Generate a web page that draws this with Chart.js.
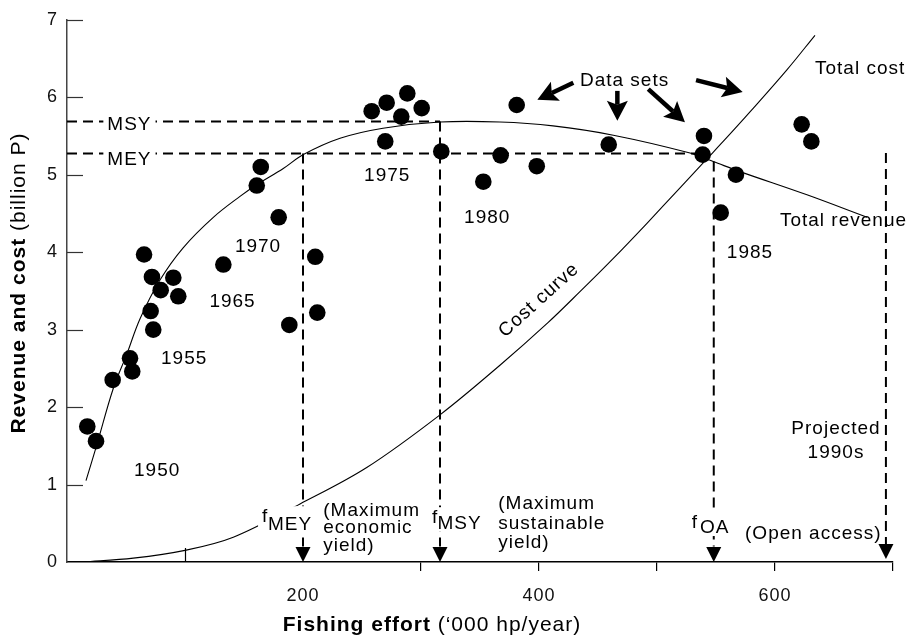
<!DOCTYPE html>
<html>
<head>
<meta charset="utf-8">
<title>Revenue and cost vs fishing effort</title>
<script src="https://cdn.jsdelivr.net/npm/chart.js@4.4.1/dist/chart.umd.min.js"></script>
<style>
html,body{margin:0;padding:0;background:#ffffff;}
#box{position:relative;width:917px;height:640px;}
</style>
</head>
<body>
<div id="box"><canvas id="chart" width="917" height="640"></canvas></div>
<script>
// ---------------- data ----------------
const effortObserved  = [17.2,24.6,38.7,53.4,55.3,65.3,72.0,70.9,73.1,79.4,90.1,94.3,132.5,160.8,164.2,179.4,188.4,210.4,212.1,258.2,270.9,288.4,300.6,283.3,269.7,317.2,381.1,367.5,398.1,352.8,459.1,539.8,538.7,566.9,554.0,622.6,630.8];
const revenueObserved = [1.75,1.56,2.35,2.63,2.46,3.97,3.68,3.24,3.00,3.51,3.67,3.43,3.84,4.86,5.10,4.45,3.06,3.94,3.22,5.82,5.93,6.05,5.86,5.75,5.43,5.30,5.90,5.25,5.11,4.91,5.39,5.50,5.26,5.00,4.51,5.65,5.43];

const revenueCurveEffort = [16.1,25.2,39.2,50.6,61.9,78.8,98.6,124.0,146.6,160.8,183.3,200.3,231.4,267.8,316.1,366.9,411.9,463.0,528.0,547.7,570.3,627.1,678.0];
const revenueCurveValue  = [1.05,1.51,2.24,2.68,3.14,3.64,4.06,4.45,4.72,4.87,5.08,5.26,5.47,5.60,5.68,5.68,5.63,5.51,5.28,5.17,5.04,4.74,4.45];

const costCurveEffort = [13.6,56.2,100.0,140.9,197.5,254.0,316.1,366.9,407.6,434.7,463.0,491.3,519.5,541.5,560.4,578.8,609.9,633.9];
const costCurveValue  = [0.00,0.05,0.15,0.32,0.75,1.22,1.90,2.54,3.09,3.49,3.92,4.37,4.83,5.19,5.50,5.81,6.35,6.80];

const xTickLabels = ['200','400','600'];
const yTickLabels = ['0','1','2','3','4','5','6','7'];

const msyLevel = 5.687;
const meyLevel = 5.275;
const meyLineEnd = 533;
const fMEY = 200.0, fMSY = 316.1, fOA = 548.1, fProjected = 694.0;
const oaTop = 5.17, projectedTop = 5.28, dropBottom = 0.2;

// annotation texts: [text, x (effort), y (baseline, billion P), align]
const noteTexts = [
  ['1950', 76.4, 1.109, 'center'],
  ['1955', 99.3, 2.554, 'center'],
  ['1965', 140.3, 3.290, 'center'],
  ['1970', 161.9, 4.000, 'center'],
  ['1975', 271.4, 4.913, 'center'],
  ['1980', 356.1, 4.382, 'center'],
  ['1985', 578.8, 3.927, 'center'],
  ['Total cost', 633.9, 6.295, 'left'],
  ['Total revenue', 604.2, 4.339, 'left'],
  ['Data sets', 472.5, 6.146, 'center'],
  ['Projected', 651.7, 1.649, 'center'],
  ['1990s', 651.7, 1.343, 'center'],
  ['(Maximum', 217.2, 0.599, 'left'],
  ['economic', 217.2, 0.370, 'left'],
  ['yield)', 217.2, 0.140, 'left'],
  ['(Maximum', 365.5, 0.685, 'left'],
  ['sustainable', 365.5, 0.430, 'left'],
  ['yield)', 365.5, 0.175, 'left'],
  ['(Open access)', 574.6, 0.302, 'left']
];
// boxed labels (white background): groups of [text, x, baseline y]
const boxedLabels = [
  [['MSY', 34.2, 5.572]],
  [['MEY', 34.2, 5.126]],
  [['f', 165.3, 0.514], ['MEY', 170.3, 0.417]],
  [['f', 309.3, 0.501], ['MSY', 314.0, 0.430]],
  [['f', 529.4, 0.434], ['OA', 536.4, 0.374]]
];
const costCurveLabel = ['Cost curve', 400, 3.379, -42];
// "Data sets" arrows: [x1, y1, x2, y2] in data units
const dataSetArrows = [
  [429.1, 6.188, 398.6, 5.967],
  [466.4, 6.082, 466.4, 5.697],
  [492.6, 6.104, 523.7, 5.678],
  [533.1, 6.222, 572.6, 6.069]
];
const dropArrowX = [fMEY, fMSY, fOA, fProjected];
const innerXTicks = [100];

// ---------------- chart ----------------
const FONT = '"Liberation Sans", Arial, Helvetica, sans-serif';
const xy = (xs, ys) => xs.map((x, i) => ({x: x, y: ys[i]}));
const dash = {showLine: true, borderColor: '#000', borderWidth: 2, borderDash: [10, 6], pointRadius: 0, fill: false, tension: 0, order: 3};

function spacing(ctx, v) { if ('letterSpacing' in ctx) ctx.letterSpacing = v; }

const annotationPlugin = {
  id: 'annotations',
  beforeDraw(chart) { spacing(chart.ctx, '1px'); },
  afterDatasetsDraw(chart) {
    const ctx = chart.ctx, sx = chart.scales.x, sy = chart.scales.y;
    const X = v => sx.getPixelForValue(v), Y = v => sy.getPixelForValue(v);
    ctx.save();
    spacing(ctx, '1px');
    ctx.fillStyle = '#000'; ctx.strokeStyle = '#000';

    // inward y ticks
    ctx.lineWidth = 1.2; ctx.strokeStyle = '#333';
    for (let i = 1; i < yTickLabels.length; i++) {
      const yy = Math.round(Y(+yTickLabels[i])) + 0.5;
      ctx.beginPath(); ctx.moveTo(sx.left, yy); ctx.lineTo(sx.left + 16, yy); ctx.stroke();
    }
    // inward x tick(s)
    ctx.strokeStyle = '#000';
    innerXTicks.forEach(v => {
      const xx = Math.round(X(v)) + 0.5;
      ctx.beginPath(); ctx.moveTo(xx, sy.bottom); ctx.lineTo(xx, sy.bottom - 14); ctx.stroke();
    });

    // drop-line arrowheads
    dropArrowX.forEach((v, i) => {
      const x = X(v), tip = Y(0) - (i === 3 ? 3 : 0);
      ctx.beginPath(); ctx.moveTo(x, tip); ctx.lineTo(x - 7.5, tip - 15); ctx.lineTo(x + 7.5, tip - 15); ctx.closePath(); ctx.fill();
    });

    // data-set arrows
    dataSetArrows.forEach(a => {
      const x1 = X(a[0]), y1 = Y(a[1]), x2 = X(a[2]), y2 = Y(a[3]);
      const dx = x2 - x1, dy = y2 - y1, L = Math.hypot(dx, dy), ux = dx / L, uy = dy / L, nx = -uy, ny = ux;
      const HL = 20, HW = 10.5, notch = 4;
      ctx.lineWidth = 4.5; ctx.lineCap = 'butt';
      ctx.beginPath(); ctx.moveTo(x1, y1); ctx.lineTo(x2 - ux * (HL - notch), y2 - uy * (HL - notch)); ctx.stroke();
      ctx.beginPath();
      ctx.moveTo(x2, y2);
      ctx.lineTo(x2 - ux * HL + nx * HW, y2 - uy * HL + ny * HW);
      ctx.lineTo(x2 - ux * (HL - notch), y2 - uy * (HL - notch));
      ctx.lineTo(x2 - ux * HL - nx * HW, y2 - uy * HL - ny * HW);
      ctx.closePath(); ctx.fill();
    });

    // plain texts
    ctx.font = '19px ' + FONT; ctx.textBaseline = 'alphabetic';
    noteTexts.forEach(n => {
      ctx.textAlign = n[3];
      ctx.fillText(n[0], X(n[1]), Y(n[2]));
    });

    // boxed labels
    ctx.textAlign = 'left';
    boxedLabels.forEach(group => {
      let l = Infinity, r = -Infinity, t = Infinity, b = -Infinity;
      group.forEach(g => {
        const w = ctx.measureText(g[0]).width, x = X(g[1]), y = Y(g[2]);
        l = Math.min(l, x); r = Math.max(r, x + w); t = Math.min(t, y - 14); b = Math.max(b, y + 2);
      });
      ctx.fillStyle = '#fff';
      ctx.fillRect(l - 4, t - 2, r - l + 8, b - t + 3);
      ctx.fillStyle = '#000';
      group.forEach(g => ctx.fillText(g[0], X(g[1]), Y(g[2])));
    });

    // rotated cost curve label
    ctx.save();
    ctx.translate(X(costCurveLabel[1]), Y(costCurveLabel[2]));
    ctx.rotate(costCurveLabel[3] * Math.PI / 180);
    ctx.textAlign = 'center'; ctx.textBaseline = 'middle';
    ctx.fillText(costCurveLabel[0], 0, 0);
    ctx.restore();
    ctx.restore();
  },
  afterDraw(chart) {
    const ctx = chart.ctx;
    ctx.save();
    spacing(ctx, '1px');
    ctx.fillStyle = '#000'; ctx.textBaseline = 'alphabetic'; ctx.textAlign = 'left';
    const bold = 'bold 21px ' + FONT, reg = '21px ' + FONT;
    // x title
    const xb = 'Fishing effort', xr = ' (\u2018000 hp/year)';
    ctx.font = bold; const w1 = ctx.measureText(xb).width;
    ctx.font = reg; const w2 = ctx.measureText(xr).width;
    let x0 = 432 - (w1 + w2) / 2;
    ctx.font = bold; ctx.fillText(xb, x0, 631);
    ctx.font = reg; ctx.fillText(xr, x0 + w1, 631);
    // y title
    const yb = 'Revenue and cost', yr = ' (billion P)';
    ctx.font = bold; const v1 = ctx.measureText(yb).width;
    ctx.font = reg; const v2 = ctx.measureText(yr).width;
    ctx.translate(25, 283); ctx.rotate(-Math.PI / 2);
    const s = -(v1 + v2) / 2;
    ctx.font = bold; ctx.fillText(yb, s, 0);
    ctx.font = reg; ctx.fillText(yr, s + v1, 0);
    ctx.restore();
  }
};

new Chart(document.getElementById('chart'), {
  type: 'scatter',
  data: {
    datasets: [
      {label: 'Data sets', data: xy(effortObserved, revenueObserved), showLine: false, pointRadius: 8.3, pointHoverRadius: 8.3, pointBackgroundColor: '#000', pointBorderWidth: 0, order: 0},
      {label: 'Total revenue', data: xy(revenueCurveEffort, revenueCurveValue), showLine: true, borderColor: '#000', borderWidth: 1.1, pointRadius: 0, tension: 0.35, order: 2},
      {label: 'Total cost', data: xy(costCurveEffort, costCurveValue), showLine: true, borderColor: '#000', borderWidth: 1.1, pointRadius: 0, tension: 0.35, order: 2},
      Object.assign({label: 'MSY', data: [{x: 0, y: msyLevel}, {x: fMSY, y: msyLevel}]}, dash),
      Object.assign({label: 'MEY', data: [{x: 0, y: meyLevel}, {x: meyLineEnd, y: meyLevel}]}, dash),
      Object.assign({label: 'fMEY', data: [{x: fMEY, y: meyLevel}, {x: fMEY, y: dropBottom}]}, dash),
      Object.assign({label: 'fMSY', data: [{x: fMSY, y: msyLevel}, {x: fMSY, y: dropBottom}]}, dash),
      Object.assign({label: 'fOA', data: [{x: fOA, y: oaTop}, {x: fOA, y: dropBottom}]}, dash),
      Object.assign({label: 'Projected', data: [{x: fProjected, y: projectedTop}, {x: fProjected, y: dropBottom}]}, dash)
    ]
  },
  options: {
    responsive: false,
    devicePixelRatio: 1,
    animation: false,
    layout: {padding: {top: 13, right: 24, left: 0, bottom: 0}},
    plugins: {legend: {display: false}, tooltip: {enabled: false}},
    events: [],
    scales: {
      x: {
        type: 'linear', min: 0, max: 700,
        afterFit: s => { s.height = 78; },
        border: {color: '#000', width: 1.5},
        grid: {drawOnChartArea: false, drawTicks: true, tickLength: 9, lineWidth: 1.2,
               color: c => (c.tick && (c.tick.value === 0 || c.tick.value === 100 || c.tick.value === 200)) ? 'rgba(0,0,0,0)' : '#000'},
        ticks: {stepSize: 100, autoSkip: false, maxRotation: 0, padding: 14, color: '#111',
                font: {family: FONT, size: 18},
                callback: v => xTickLabels.includes(String(v)) ? String(v) : ''}
      },
      y: {
        type: 'linear', min: 0, max: 7,
        afterFit: s => { s.width = 67; },
        border: {color: '#444', width: 1.5},
        grid: {drawOnChartArea: false, drawTicks: false},
        ticks: {stepSize: 1, padding: 9, color: '#111', font: {family: FONT, size: 18},
                callback: v => yTickLabels.includes(String(v)) ? String(v) : ''}
      }
    }
  },
  plugins: [annotationPlugin]
});
</script>
</body>
</html>
